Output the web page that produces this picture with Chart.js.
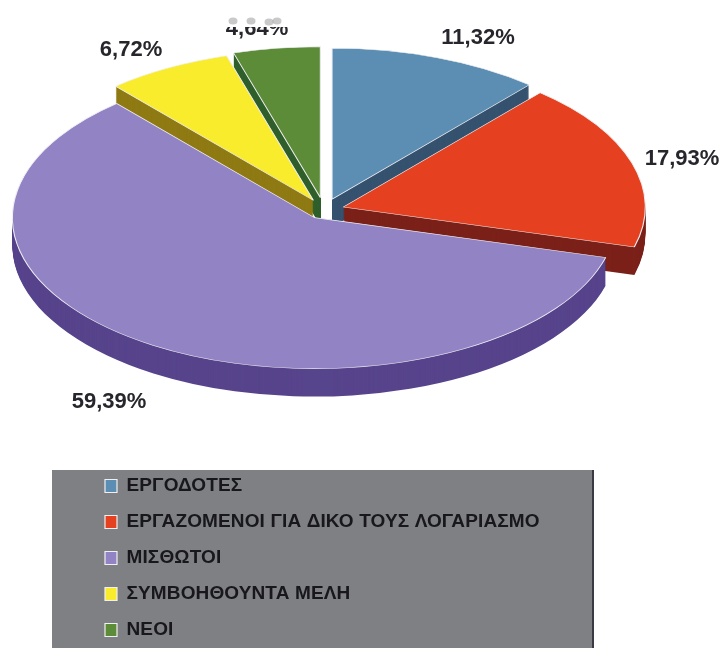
<!DOCTYPE html>
<html lang="el">
<head>
<meta charset="utf-8">
<style>
html,body{margin:0;padding:0;background:#fff}
canvas{display:block;filter:blur(0.45px)}
</style>
<script src="https://cdn.jsdelivr.net/npm/chart.js@4/dist/chart.umd.min.js"></script>
</head>
<body>
<canvas id="c" width="720" height="648"></canvas>
<script>
const categories = ["ΕΡΓΟΔΟΤΕΣ","ΕΡΓΑΖΟΜΕΝΟΙ ΓΙΑ ΔΙΚΟ ΤΟΥΣ ΛΟΓΑΡΙΑΣΜΟ","ΜΙΣΘΩΤΟΙ","ΣΥΜΒΟΗΘΟΥΝΤΑ ΜΕΛΗ","ΝΕΟΙ"];
const shares = [11.32,17.93,59.39,6.72,4.64];
const shareLabels = ["11,32%","17,93%","59,39%","6,72%","4,64%"];
const topColors = ["#5b8eb2","#e5401f","#9283c4","#f9ec2d","#5c8c38"];
const wallColors = ["#35526f","#7b2119","#57448c","#8f7a13","#2f5f2b"];
const explode = [23,20,18,22,25];

// styling / layout
const PIE = {cx:324, cy:210, squash:0.5, depth:28, radius:302};
const drawOrder = [4,3,0,1,2];
const labelAt = [[478,36],[682,157],[109,400],[131,48],[257,27]];
const smudgeAt = [[233,21],[251,21],[269,22],[277,21]];
const LEGEND = {x:52, y:470, r:594, left:88, top:459.5};
const FONT = '"Liberation Sans", Arial, sans-serif';

const pie3d = {
  id:'pie3d',
  beforeDraw(chart){
    const c = chart.ctx;
    c.save();
    c.fillStyle = '#fff';
    c.fillRect(0,0,chart.width,chart.height);
    c.fillStyle = '#7f8083';
    c.fillRect(LEGEND.x,LEGEND.y,LEGEND.r-LEGEND.x,chart.height-LEGEND.y);
    c.fillStyle = '#3a3a44';
    c.fillRect(LEGEND.r-2,LEGEND.y,2,chart.height-LEGEND.y);
    c.restore();
    c.letterSpacing = '0.13px';
  },
  afterLayout(chart){
    const l = chart.legend;
    const w = l.right-l.left, h = l.bottom-l.top;
    l.left = LEGEND.left; l.top = LEGEND.top;
    l.right = l.left+w; l.bottom = l.top+h;
  },
  beforeDatasetDraw(chart,args){
    const c = chart.ctx, arcs = args.meta.data;
    const a0 = arcs[0];
    const S = PIE.radius/a0.outerRadius;
    const place = (arc,i,d) => {
      const mid = (arc.startAngle+arc.endAngle)/2;
      c.translate(PIE.cx,PIE.cy+d);
      c.scale(S,S*PIE.squash);
      c.translate(-a0.x,-a0.y);
      c.translate(Math.cos(mid)*explode[i]/S,Math.sin(mid)*explode[i]/S);
    };
    c.save();
    drawOrder.forEach(i=>{
      const arc = arcs[i], base = arc.options;
      arc.options = Object.assign({},base,{backgroundColor:wallColors[i],borderWidth:0});
      for(let d=PIE.depth;d>=1;d--){
        c.save();
        place(arc,i,d);
        arc.draw(c);
        c.restore();
      }
      arc.options = base;
      c.save();
      place(arc,i,0);
      arc.draw(c);
      c.restore();
    });
    c.restore();
    return false;
  },
  afterDraw(chart){
    const c = chart.ctx;
    c.save();
    c.letterSpacing = '0px';
    c.font = 'bold 22px '+FONT;
    c.fillStyle = '#26262c';
    c.textAlign = 'center';
    c.textBaseline = 'alphabetic';
    shareLabels.forEach((t,i)=>{
      c.save();
      if(i===4){ c.beginPath(); c.rect(200,27,120,30); c.clip(); }
      c.fillText(t,labelAt[i][0],labelAt[i][1]+8);
      c.restore();
    });
    c.fillStyle = 'rgba(120,120,120,0.4)';
    smudgeAt.forEach(p=>{
      c.beginPath();
      c.ellipse(p[0],p[1],4.5,3.5,0,0,Math.PI*2);
      c.fill();
    });
    c.restore();
  }
};

new Chart(document.getElementById('c'),{
  type:'pie',
  data:{labels:categories,datasets:[{
    data:shares,
    backgroundColor:topColors,
    borderColor:'#f1eff2',
    borderWidth:1.2
  }]},
  plugins:[pie3d],
  options:{
    responsive:false,
    animation:false,
    rotation:0,
    layout:{padding:0},
    events:[],
    plugins:{
      tooltip:{enabled:false},
      legend:{
        position:'chartArea',
        align:'start',
        labels:{
          boxWidth:12,boxHeight:13,padding:17,color:'#17171c',
          font:{family:FONT,size:19,weight:'bold'}
        }
      }
    }
  }
});
</script>
</body>
</html>
